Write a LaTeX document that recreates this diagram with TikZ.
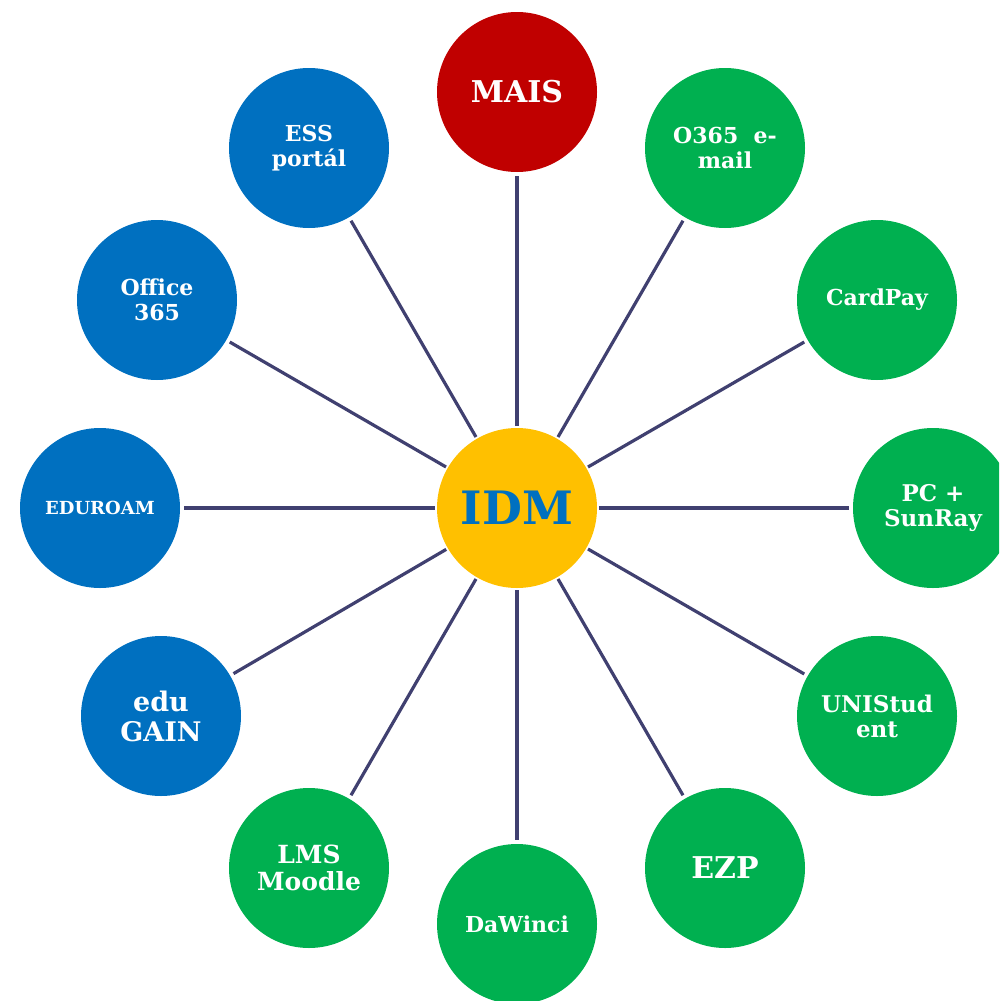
\documentclass[tikz,border=0pt]{standalone}
\usepackage{fontspec}
\setmainfont{DejaVu Serif}
\definecolor{cgreen}{HTML}{00B050}
\definecolor{cblue}{HTML}{0070C0}
\definecolor{cred}{HTML}{C00000}
\definecolor{cyellow}{HTML}{FFC000}
\definecolor{cline}{HTML}{404070}
\newcommand{\fs}[2]{\bfseries\fontsize{#1}{#2}\selectfont}
\begin{document}
\begin{tikzpicture}[x=1pt,y=-1pt,
  hub/.style={circle,fill=cyellow,minimum size=160pt,inner sep=0pt,outer sep=0pt,text=cblue,font=\bfseries\fontsize{46}{50}\selectfont},
  sat/.style={circle,minimum size=160pt,inner sep=0pt,outer sep=0pt,text=white,align=center},
  gsat/.style={sat,fill=cgreen},
  bsat/.style={sat,fill=cblue},
  rsat/.style={sat,fill=cred},
  link/.style={draw=cline,line width=3.2pt,shorten <=2pt,shorten >=4pt}]
\useasboundingbox (0,0) rectangle (999,1001);
\clip (0,0) rectangle (999,1001);
\node[hub] (idm) at (517,508) {IDM};
\node[rsat,font=\fs{30}{34}] (mais) at (517,92) {MAIS};
\node[gsat,font=\fs{22}{25}] (o365) at (725,148) {O365\ \ e-\\mail};
\node[gsat,font=\fs{22}{25}] (card) at (877,300) {CardPay};
\node[gsat,font=\fs{23}{25}] (pc) at (933,508) {PC +\\SunRay};
\node[gsat,font=\fs{23}{25}] (uni) at (877,716) {UNIStud\\ent};
\node[gsat,font=\fs{30}{34}] (ezp) at (725,868) {EZP};
\node[gsat,font=\fs{22}{25}] (dawinci) at (517,924) {DaWinci};
\node[gsat,font=\fs{25}{27}] (lms) at (309,868) {LMS\\Moodle};
\node[bsat,font=\fs{27}{30}] (edugain) at (161,716) {edu\\GAIN};
\node[bsat,font=\fs{18}{20}] (eduroam) at (100,508) {EDUROAM};
\node[bsat,font=\fs{22}{25}] (office) at (157,300) {Office\\365};
\node[bsat,font=\fs{22}{25}] (ess) at (309,148) {ESS\\portál};
\foreach \t in {mais,o365,card,pc,uni,ezp,dawinci,lms,edugain,eduroam,office,ess}
  \draw[link] (idm) -- (\t);
\end{tikzpicture}
\end{document}
